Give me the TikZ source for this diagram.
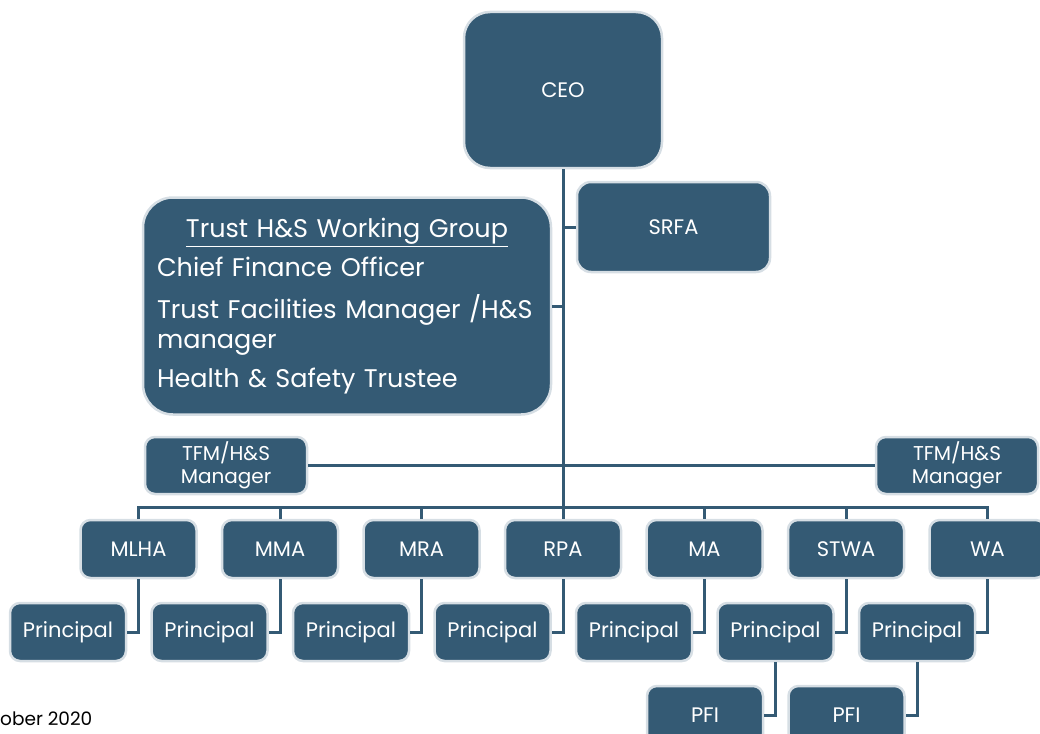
\documentclass[tikz,border=0pt]{standalone}
\usepackage{fontspec}
\setmainfont{Poppins}
\definecolor{unitblue}{RGB}{52,90,116}
\definecolor{unitedge}{RGB}{214,222,228}
\begin{document}
\begin{tikzpicture}[x=1pt, y=1pt, node distance=141.5pt,
    unit/.style={rounded corners=10pt, draw=unitedge, line width=2.5pt, fill=unitblue, text=white,
        minimum width=116pt, minimum height=58pt, inner sep=2pt, align=center, font=\fontsize{21}{24}\selectfont},
    link/.style={draw=unitblue, line width=3pt}]
        \useasboundingbox (0,0) rectangle (1040,-733);
        % Define nodes
        \node (ceo) [unit, minimum width=198pt, minimum height=156pt, rounded corners=26pt] at (563,-90) {CEO};
        \node (srfa) [unit, minimum width=193pt, minimum height=90pt, rounded corners=14pt] at (673.5,-227) {SRFA};
        \node (group) [unit, minimum height=217pt, text width=380pt, inner xsep=14pt, rounded corners=30pt, align=left,
            font=\fontsize{25.5}{30}\selectfont] at (347,-306)
            {\makebox[\linewidth]{\underline{Trust H\&S Working Group}}\\[9pt]
             Chief Finance Officer\\[12pt]
             Trust Facilities Manager /H\&S\\ manager\\[9pt]
             Health \& Safety Trustee};
        \node (tfm_left) [unit, minimum width=162pt, minimum height=57pt, font=\fontsize{20}{23}\selectfont] at (226,-465.5) {TFM/H\&S\\Manager};
        \node (tfm_right) [unit, minimum width=162pt, minimum height=57pt, font=\fontsize{20}{23}\selectfont] at (957,-465.5) {TFM/H\&S\\Manager};
        \node (rpa) [unit] at (563,-549) {RPA};
        \node (mra) [unit, left of=rpa] {MRA};
        \node (mma) [unit, left of=mra] {MMA};
        \node (mlha) [unit, left of=mma] {MLHA};
        \node (ma) [unit, right of=rpa] {MA};
        \node (stwa) [unit, right of=ma] {STWA};
        \node (wa) [unit, right of=stwa] {WA};
        \node (p_mlha) [unit, below of=mlha, node distance=83pt, xshift=-70.5pt] {Principal};
        \node (p_mma) [unit, below of=mma, node distance=83pt, xshift=-70.5pt] {Principal};
        \node (p_mra) [unit, below of=mra, node distance=83pt, xshift=-70.5pt] {Principal};
        \node (p_rpa) [unit, below of=rpa, node distance=83pt, xshift=-70.5pt] {Principal};
        \node (p_ma) [unit, below of=ma, node distance=83pt, xshift=-70.5pt] {Principal};
        \node (p_stwa) [unit, below of=stwa, node distance=83pt, xshift=-70.5pt] {Principal};
        \node (p_wa) [unit, below of=wa, node distance=83pt, xshift=-70.5pt] {Principal};
        \node (pfi_stwa) [unit, below of=p_stwa, node distance=83pt, xshift=-70.5pt] {PFI};
        \node (pfi_wa) [unit, below of=p_wa, node distance=83pt, xshift=-70.5pt] {PFI};
        \node (date) [anchor=base west, inner sep=0pt, font=\fontsize{18.5}{22}\selectfont] at (0,-725) {ober 2020};

        % Draw connectors
        \coordinate (bus_left) at (mlha.north |- 0,-507);
        \coordinate (bus_right) at (wa.north |- 0,-507);
        \draw[link] (ceo.south) -- (rpa.north);
        \draw[link] (ceo.south |- srfa.west) -- (srfa.west);
        \draw[link] (group.east) -- (ceo.south |- group.east);
        \draw[link] (tfm_left.east) -- (tfm_right.west);
        \draw[link] (mlha.north) -- (bus_left) -- (bus_right) -- (wa.north);
        \foreach \academy in {mma, mra, ma, stwa}
            \draw[link] (\academy.north) -- (\academy.north |- bus_left);
        \foreach \academy in {mlha, mma, mra, rpa, ma, stwa, wa}
            \draw[link] (\academy.south) |- (p_\academy.east);
        \draw[link] (p_stwa.south) |- (pfi_stwa.east);
        \draw[link] (p_wa.south) |- (pfi_wa.east);
    \end{tikzpicture}
\end{document}
